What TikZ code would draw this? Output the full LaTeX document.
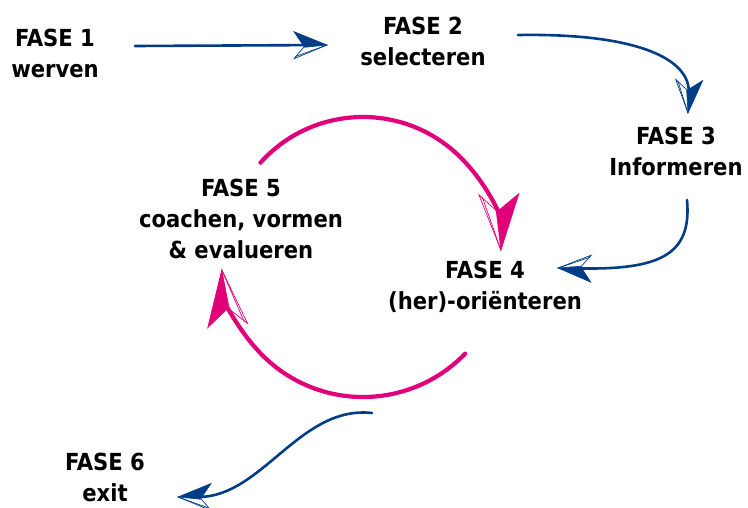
\documentclass[tikz,border=0pt]{standalone}
\usepackage{fontspec}
\setmainfont{DejaVu Sans Condensed}
\usetikzlibrary{arrows.meta}

\definecolor{phaseblue}{RGB}{0,61,134}
\definecolor{phasepink}{RGB}{226,0,122}

% Sketch-style arrow head: one barb filled, the other only outlined.
% #1 = sign of the filled barb, #2 = sign of the outlined barb
\newcommand\sketchheadcode[2]{%
  \pgfsetlinewidth{0.6pt}\pgfsetmiterjoin
  \pgfpathmoveto{\pgfpointorigin}
  \pgfpathlineto{\pgfpoint{-\pgfarrowlength}{#1.5\pgfarrowwidth}}
  \pgfpathlineto{\pgfpoint{-.68\pgfarrowlength}{#2.08\pgfarrowwidth}}
  \pgfpathclose
  \pgfusepathqfillstroke
  \pgfsetlinewidth{0.7pt}
  \pgfpathmoveto{\pgfpointorigin}
  \pgfpathlineto{\pgfpoint{-\pgfarrowlength}{#2.5\pgfarrowwidth}}
  \pgfpathlineto{\pgfpoint{-.68\pgfarrowlength}{#2.04\pgfarrowwidth}}
  \pgfusepathqstroke
  \pgfpathmoveto{\pgfpointorigin}
  \pgfpathlineto{\pgfpoint{-.96\pgfarrowlength}{#2.42\pgfarrowwidth}}
  \pgfusepathqstroke
}
\pgfdeclarearrow{
  name = SketchL,
  parameters = {\the\pgfarrowlength,\the\pgfarrowwidth},
  setup code = {
    \pgfarrowssettipend{0pt}
    \pgfarrowssetlineend{-.62\pgfarrowlength}
    \pgfarrowssetbackend{-\pgfarrowlength}
    \pgfarrowssavethe\pgfarrowlength
    \pgfarrowssavethe\pgfarrowwidth
  },
  drawing code = {\sketchheadcode{}{-}},
  defaults = {length = 30pt, width = 24pt}
}
\pgfdeclarearrow{
  name = SketchR,
  parameters = {\the\pgfarrowlength,\the\pgfarrowwidth},
  setup code = {
    \pgfarrowssettipend{0pt}
    \pgfarrowssetlineend{-.62\pgfarrowlength}
    \pgfarrowssetbackend{-\pgfarrowlength}
    \pgfarrowssavethe\pgfarrowlength
    \pgfarrowssavethe\pgfarrowwidth
  },
  drawing code = {\sketchheadcode{-}{}},
  defaults = {length = 30pt, width = 24pt}
}

\begin{document}
\begin{tikzpicture}[x=1pt,y=-1pt,
  phase/.style={font=\fontsize{23.5}{31}\selectfont\bfseries, align=center, inner sep=0pt},
  flow/.style={draw=phaseblue, line width=2.6pt, line cap=round},
  cyclearc/.style={draw=phasepink, line width=4.2pt, line cap=round},
  bluehead/.style={-{SketchL[length=33pt,width=27pt]}},
  blueheadswap/.style={-{SketchR[length=33pt,width=27pt]}},
  pinkhead/.style={-{SketchL[length=56pt,width=40pt]}}
]
\useasboundingbox (0,0) rectangle (748,507);

% phases
\node[phase] (f1) at (55,53.6)  {FASE 1\\werven};
\node[phase] (f2) at (423,41.6) {FASE 2\\selecteren};
\node[phase] (f3) at (676,151)  {FASE 3\\Informeren};
\node[phase] (f4) at (485,287)  {FASE 4\\(her)-oriënteren};
\node[phase] (f5) at (241,218.5){FASE 5\\coachen, vormen\\\& evalueren};
\node[phase] (f6) at (105,477)  {FASE 6\\exit};

% end points of the connectors
\coordinate (a1s) at (135,46);   \coordinate (a1e) at (327,45);
\coordinate (a2s) at (518,35);   \coordinate (a2e) at (688,113);
\coordinate (a3s) at (687,200);  \coordinate (a3e) at (558,268);
\coordinate (a6s) at (372,413);  \coordinate (a6e) at (178,497);
\coordinate (cc) at (363,255);

% blue flow
\draw[flow,bluehead] (a1s) -- (a1e);
\draw[flow,bluehead] (a2s) .. controls (640,33) and (690,60) .. (a2e);
\draw[flow,bluehead] (a3s) .. controls (692,255) and (660,270) .. (a3e);
\draw[flow,blueheadswap] (a6s) .. controls (300,405) and (262,497) .. (a6e);

% pink cycle between phase 4 and phase 5
\draw[cyclearc,pinkhead] (cc) ++(222:138) arc[start angle=222, end angle=358, radius=138];
\draw[cyclearc,pinkhead] (cc) ++(44:142) arc[start angle=44, end angle=174, radius=142];
\end{tikzpicture}
\end{document}
